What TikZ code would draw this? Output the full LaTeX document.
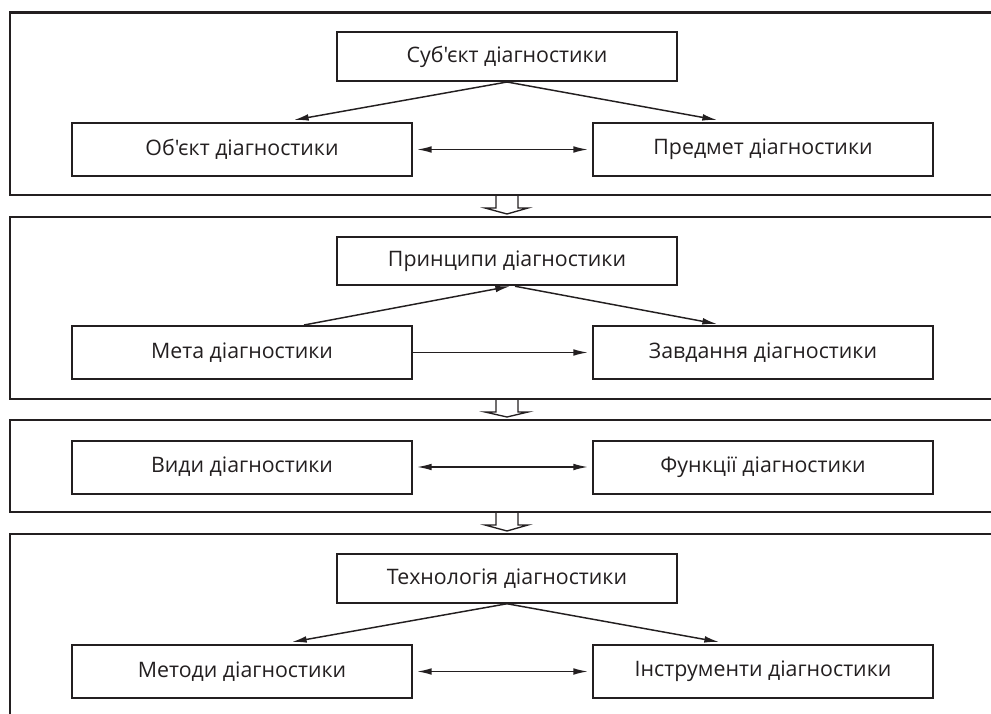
\documentclass[tikz,border=0pt]{standalone}
\usepackage{fontspec}
\setmainfont{Open Sans}[Ligatures=TeXOff]
\usetikzlibrary{arrows.meta,calc}
\definecolor{ink}{HTML}{231F20}
\begin{document}
\begin{tikzpicture}[x=0.75pt,y=-0.75pt,
  box/.style={draw=ink,line width=1.5pt,minimum width=340*0.75pt,inner sep=0pt,font=\fontsize{16}{18}\selectfont,text=ink},
  topbox/.style={box,minimum height=48.5*0.75pt},
  lowbox/.style={box,minimum height=53*0.75pt},
  frame/.style={draw=ink,line width=1.6pt},
  conn/.style={draw=ink,line width=1.1pt,-{Latex[length=11pt,width=5pt]}},
  dconn/.style={draw=ink,line width=1.1pt,{Latex[length=11pt,width=5pt]}-{Latex[length=11pt,width=5pt]}},
  hollow/.style={draw=ink,line width=1pt,line join=miter}]
\useasboundingbox (0,0) rectangle (991,713);
\clip (0,0) rectangle (991,713);
% frames
\draw[frame] (1005,12.5) -- (10,12.5) -- (10,195) -- (1005,195);
\draw[frame] (1005,217) -- (10,217) -- (10,399) -- (1005,399);
\draw[frame] (1005,420) -- (10,420) -- (10,512) -- (1005,512);
\draw[frame] (1005,534) -- (10,534) -- (10,720);
% hollow arrows
\foreach \yb/\yt in {195/217,399/420,512/534}{
  \draw[hollow] (496,\yb) -- (496,\yb+13) -- (485,\yb+13) -- (507,\yt-3) -- (528,\yb+13) -- (518,\yb+13) -- (518,\yb);
}
% section 1
\node[topbox] (s1) at (507,56.75) {Суб'єкт діагностики};
\node[lowbox] (o1) at (242,149.5) {Об'єкт діагностики};
\node[lowbox] (p1) at (763,149.5) {Предмет діагностики};
\draw[conn] (s1.south) -- ($(o1.north west)+(223,-2)$);
\draw[conn] (s1.south) -- ($(p1.north west)+(125,-2)$);
\draw[dconn,shorten <=3pt,shorten >=3pt] (o1.east) -- (p1.west);
% section 2
\node[topbox] (s2) at (507,261) {Принципи діагностики};
\node[lowbox] (o2) at (242,352.5) {Мета діагностики};
\node[lowbox] (p2) at (763,352.5) {Завдання діагностики};
\draw[conn] ($(o2.north west)+(233,0)$) -- ($(s2.south)+(3,0)$);
\draw[conn] ($(s2.south)+(8,0)$) -- ($(p2.north west)+(125,-1)$);
\draw[conn,shorten >=3pt] (o2.east) -- (p2.west);
% section 3
\node[lowbox] (o3) at (242,467) {Види діагностики};
\node[lowbox] (p3) at (763,467) {Функції діагностики};
\draw[dconn,shorten <=3pt,shorten >=3pt] (o3.east) -- (p3.west);
% section 4
\node[topbox] (s4) at (507,578.5) {Технологія діагностики};
\node[lowbox] (o4) at (242,671.5) {Методи діагностики};
\node[lowbox] (p4) at (763,671.5) {Інструменти діагностики};
\draw[conn] (s4.south) -- ($(o4.north west)+(221,-2)$);
\draw[conn] (s4.south) -- ($(p4.north west)+(127,-2)$);
\draw[dconn,shorten <=3pt,shorten >=3pt] (o4.east) -- (p4.west);
\end{tikzpicture}
\end{document}
